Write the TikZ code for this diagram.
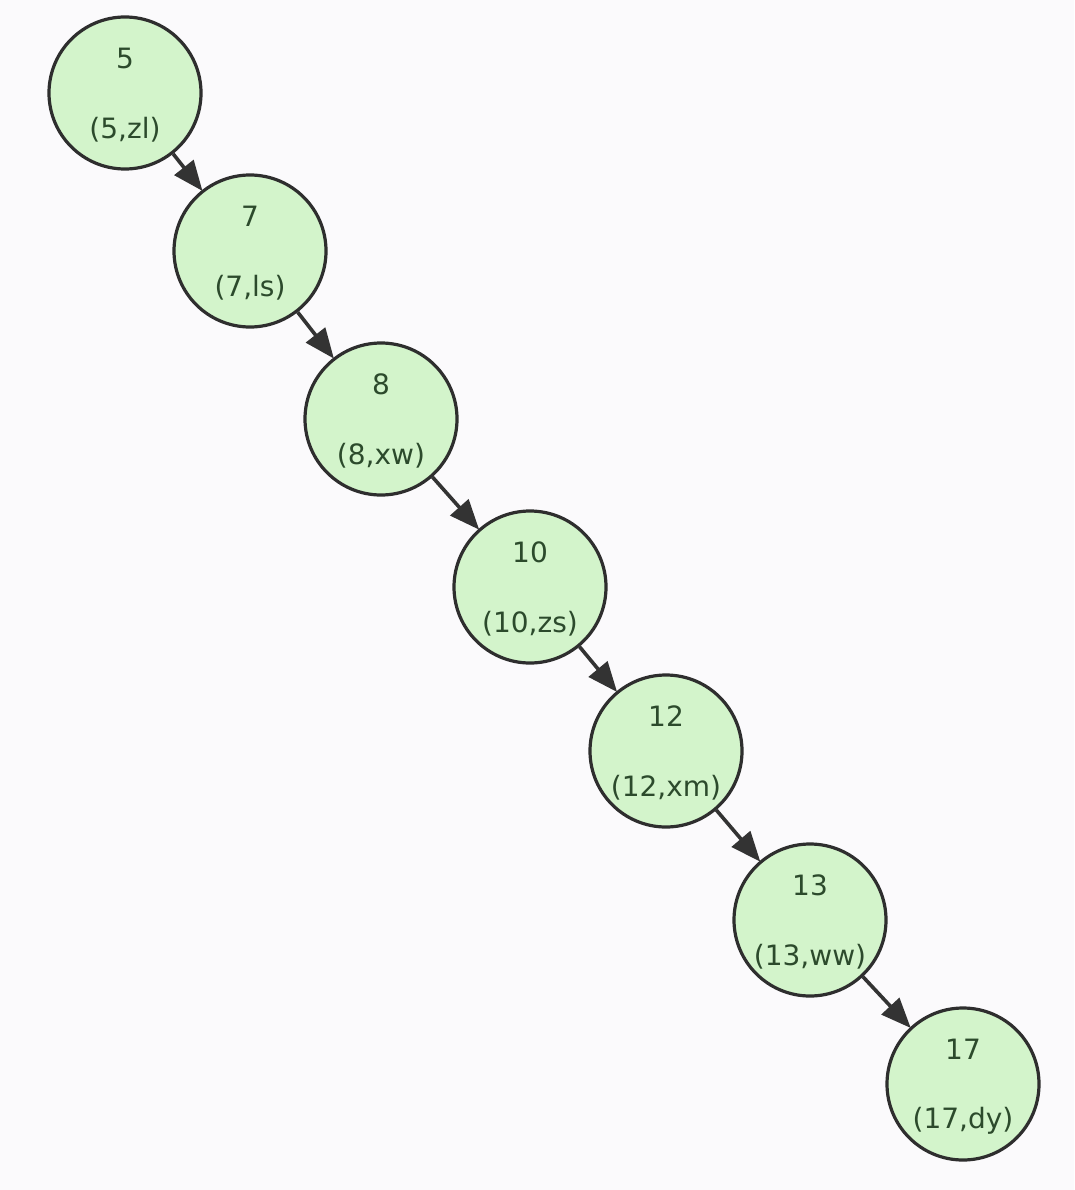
\documentclass[tikz,border=0pt]{standalone}
\usepackage{fontspec}
\setmainfont{DejaVu Sans}
\usetikzlibrary{arrows.meta}
\definecolor{bgc}{HTML}{FBFAFC}
\definecolor{nodefill}{HTML}{D3F4CB}
\definecolor{nodeline}{HTML}{2E2E2E}
\definecolor{txt}{HTML}{2C4A2C}
\definecolor{arrowc}{HTML}{333333}
\tikzset{
  treenode/.style={circle, draw=nodeline, fill=nodefill, line width=3.2pt, minimum size=152pt, inner sep=0pt},
  keytext/.style={text=txt, font=\fontsize{28}{30}\selectfont, inner sep=0pt},
  link/.style={draw=arrowc, line width=3.6pt, -{Triangle[length=30pt,width=24pt]}, shorten >=-1pt}
}
\begin{document}
\begin{tikzpicture}[x=1pt,y=-1pt]
\fill[bgc] (0,0) rectangle (1074,1190);
\useasboundingbox (0,0) rectangle (1074,1190);
\foreach \name/\cx/\cy/\k/\v in {n5/125/93/5/{(5,zl)}, n7/250/251/7/{(7,ls)}, n8/381/419/8/{(8,xw)}, n10/530/587/10/{(10,zs)}, n12/666/751/12/{(12,xm)}, n13/810/920/13/{(13,ww)}, n17/963/1084/17/{(17,dy)}}{
  \node[treenode] (\name) at (\cx,\cy) {};
  \node[keytext] (\name k) at (\cx,\cy-35) {\k};
  \node[keytext] (\name v) at (\cx,\cy+37) {\v};
}
\draw[link] (n5) -- (n7);
\draw[link] (n7) -- (n8);
\draw[link] (n8) -- (n10);
\draw[link] (n10) -- (n12);
\draw[link] (n12) -- (n13);
\draw[link] (n13) -- (n17);
\end{tikzpicture}
\end{document}
